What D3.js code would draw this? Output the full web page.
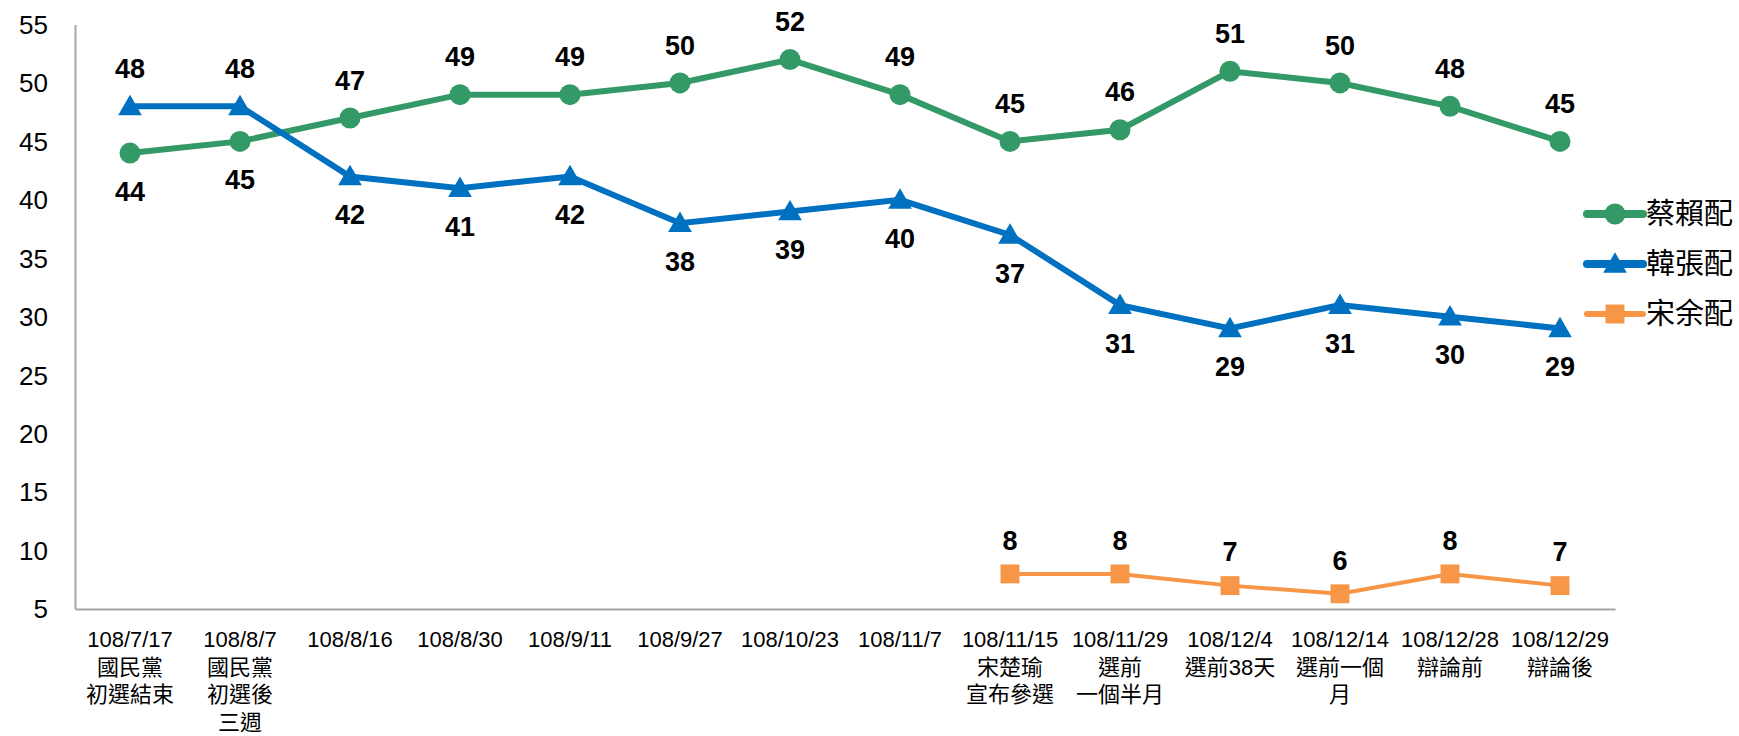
<!DOCTYPE html>
<html lang="zh-Hant">
<head>
<meta charset="utf-8" />
<title>蔡賴配 韓張配 宋余配</title>
<script src="https://d3js.org/d3.v7.min.js"></script>
<style>
  html, body { margin: 0; padding: 0; background: #fff; }
  svg text { font-family: "Liberation Sans", Arial, "Noto Sans CJK TC", sans-serif; }
</style>
</head>
<body>
<div id="chart"></div>
<script>
// dates along the x axis, plus the note lines under each date
const dates = ["108/7/17", "108/8/7", "108/8/16", "108/8/30", "108/9/11", "108/9/27", "108/10/23",
               "108/11/7", "108/11/15", "108/11/29", "108/12/4", "108/12/14", "108/12/28", "108/12/29"];
const notes = [["國民黨", "初選結束"], ["國民黨", "初選後", "三週"], [], [], [], [], [], [],
               ["宋楚瑜", "宣布參選"], ["選前", "一個半月"], ["選前38天"], ["選前一個", "月"], ["辯論前"], ["辯論後"]];

const tsaiLai = [44, 45, 47, 49, 49, 50, 52, 49, 45, 46, 51, 50, 48, 45];
const hanChang = [48, 48, 42, 41, 42, 38, 39, 40, 37, 31, 29, 31, 30, 29];
// 宋余配 only starts at 108/11/15
const soongYu = [null, null, null, null, null, null, null, null, 8, 8, 7, 6.3, 8, 7];
const soongYuText = [null, null, null, null, null, null, null, null, 8, 8, 7, 6, 8, 7];

const yTicks = [5, 10, 15, 20, 25, 30, 35, 40, 45, 50, 55];

const W = 1739, H = 736;
const svg = d3.select("#chart").append("svg")
  .attr("width", W).attr("height", H);

const x = d3.scaleBand().domain(d3.range(dates.length)).range([75, 1615]);
const y = d3.scaleLinear().domain([5, 55]).range([609, 24.5]);
const cx = i => x(i) + x.bandwidth() / 2;

// axes: plain grey lines, no tick marks
svg.append("g")
  .attr("transform", "translate(0,609)")
  .call(d3.axisBottom(x).tickSize(0).tickFormat(""))
  .call(g => g.select(".domain").attr("stroke", "#a6a6a6").attr("stroke-width", 2));
svg.append("g")
  .attr("transform", "translate(75,0)")
  .call(d3.axisLeft(y).tickValues(yTicks).tickSize(0).tickFormat(""))
  .call(g => g.select(".domain").attr("stroke", "#a6a6a6").attr("stroke-width", 2));

svg.selectAll("text.ytick")
  .data(yTicks)
  .join("text")
    .attr("class", "ytick")
    .attr("x", 48)
    .attr("y", d => y(d))
    .attr("dy", "0.36em")
    .attr("text-anchor", "end")
    .style("font-size", "26px")
    .text(d => d);

// x labels
const xl = svg.selectAll("text.xlab")
  .data(dates)
  .join("text")
    .attr("class", "xlab")
    .attr("text-anchor", "middle")
    .style("font-size", "22px")
    .attr("transform", (d, i) => `translate(${cx(i)},647)`);
xl.each(function (d, i) {
  const t = d3.select(this);
  [d].concat(notes[i]).forEach((line, k) => {
    t.append("tspan").attr("x", 0).attr("y", k * 27.5).text(line);
  });
});

const series = [
  { name: "蔡賴配", values: tsaiLai, text: tsaiLai, color: "#339966", shape: "circle", off: 38,
    above: [false, false, true, true, true, true, true, true, true, true, true, true, true, true] },
  { name: "韓張配", values: hanChang, text: hanChang, color: "#0070c0", shape: "triangle", off: 38,
    above: [true, true, false, false, false, false, false, false, false, false, false, false, false, false] },
  { name: "宋余配", values: soongYu, text: soongYuText, color: "#f79646", shape: "square", off: 34,
    above: d3.range(14).map(() => true) }
];

function marker(sel, shape, color, size) {
  if (shape === "circle") {
    sel.append("circle").attr("r", size / 2).attr("fill", color);
  } else if (shape === "triangle") {
    sel.append("path").attr("d", d3.symbol(d3.symbolTriangle, size * size * 0.55)).attr("fill", color)
      .attr("transform", "translate(0,2)");
  } else {
    sel.append("rect").attr("x", -size * 0.45).attr("y", -size * 0.45)
      .attr("width", size * 0.9).attr("height", size * 0.9).attr("fill", color);
  }
}

const line = d3.line()
  .defined(d => d != null)
  .x((d, i) => cx(i))
  .y(d => y(d));

series.forEach(s => {
  const w = s.shape === "square" ? 4 : 6;
  svg.append("path")
    .datum(s.values)
    .attr("fill", "none")
    .attr("stroke", s.color)
    .attr("stroke-width", w)
    .attr("d", line);

  s.values.forEach((v, i) => {
    if (v == null) return;
    const g = svg.append("g").attr("transform", `translate(${cx(i)},${y(v)})`);
    marker(g, s.shape, s.color, 21);
  });

  svg.selectAll(null)
    .data(s.values.map((v, i) => ({ v, i })).filter(d => d.v != null))
    .join("text")
      .attr("x", d => cx(d.i))
      .attr("y", d => y(d.v) + (s.above[d.i] ? -s.off : s.off))
      .attr("dy", "0.36em")
      .attr("text-anchor", "middle")
      .style("font-size", "27px")
      .style("font-weight", "bold")
      .text(d => s.text[d.i]);
});

// legend
const legend = svg.selectAll("g.leg")
  .data(series)
  .join("g")
    .attr("class", "leg")
    .attr("transform", (d, i) => `translate(1615,${214 + i * 50})`);
legend.append("line")
  .attr("x1", -28).attr("x2", 28)
  .attr("stroke", d => d.color)
  .attr("stroke-width", d => d.shape === "square" ? 6 : 8)
  .attr("stroke-linecap", "round");
legend.each(function (d) { marker(d3.select(this), d.shape, d.color, 21); });
legend.append("text")
  .attr("x", 31)
  .attr("dy", "0.36em")
  .style("font-size", "29px")
  .text(d => d.name);
</script>
</body>
</html>
